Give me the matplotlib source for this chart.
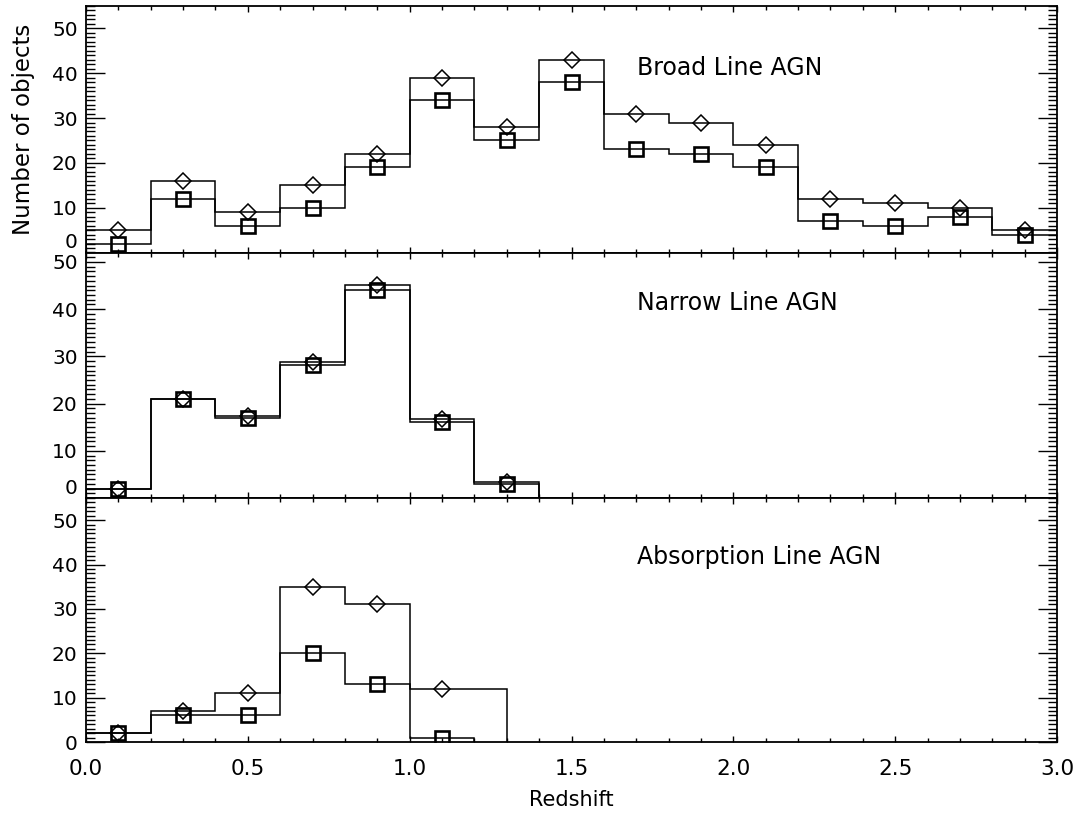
import numpy as np
import matplotlib
matplotlib.use('Agg')
import matplotlib.pyplot as plt
from matplotlib.ticker import MultipleLocator

# redshift histograms, bin width 0.2
broad_centers = [0.1, 0.3, 0.5, 0.7, 0.9, 1.1, 1.3, 1.5, 1.7, 1.9, 2.1, 2.3, 2.5, 2.7, 2.9]
broad_edges = [0.0, 0.2, 0.4, 0.6, 0.8, 1.0, 1.2, 1.4, 1.6, 1.8, 2.0, 2.2, 2.4, 2.6, 2.8, 3.0]
broad_all = [5, 16, 9, 15, 22, 39, 28, 43, 31, 29, 24, 12, 11, 10, 5]
broad_sel = [2, 12, 6, 10, 19, 34, 25, 38, 23, 22, 19, 7, 6, 8, 4]

narrow_centers = [0.1, 0.3, 0.5, 0.7, 0.9, 1.1, 1.3]
narrow_edges = [0.0, 0.2, 0.4, 0.6, 0.8, 1.0, 1.2, 1.4]
narrow_all = [2, 21, 17.3, 28.9, 45.1, 16.7, 3.3]
narrow_sel = [2, 21, 17.0, 28.1, 44.0, 16.0, 2.9]

absorp_centers = [0.1, 0.3, 0.5, 0.7, 0.9, 1.1]
absorp_all = [2, 7, 11, 35, 31, 12]
absorp_all_edges = [0.0, 0.2, 0.4, 0.6, 0.8, 1.0, 1.3]
absorp_sel = [2, 6, 6, 20, 13, 1]
absorp_sel_edges = [0.0, 0.2, 0.4, 0.6, 0.8, 1.0, 1.2]

labels = ['Broad Line AGN', 'Narrow Line AGN', 'Absorption Line AGN']
ytops = [55, 52, 55]

plt.rcParams['font.family'] = ['DejaVu Sans']

fig = plt.figure(figsize=(10.83, 8.17), dpi=100)
W, H = 1083.0, 817.0
left, right = 86 / W, 1057 / W
bounds = [(6, 252.5), (252.5, 498), (498, 742)]

panels = [
    (broad_centers, broad_all, broad_edges, broad_sel, broad_edges),
    (narrow_centers, narrow_all, narrow_edges, narrow_sel, narrow_edges),
    (absorp_centers, absorp_all, absorp_all_edges, absorp_sel, absorp_sel_edges),
]

for i, (cen, v_all, e_all, v_sel, e_sel) in enumerate(panels):
    top, bot = bounds[i]
    ax = fig.add_axes([left, 1 - bot / H, right - left, (bot - top) / H])

    ax.stairs(v_all, e_all, baseline=0, color='k', lw=1.1)
    ax.stairs(v_sel, e_sel, baseline=0, color='k', lw=1.1)
    ax.plot(cen, v_all, ls='none', marker='D', ms=7.8, mfc='none', mec='k', mew=1.1)
    ax.plot(cen, v_sel, ls='none', marker='s', ms=9.6, mfc='none', mec='k', mew=1.9)

    ax.set_xlim(0, 3)
    ax.set_ylim(0, ytops[i])
    ax.xaxis.set_major_locator(MultipleLocator(0.5))
    ax.xaxis.set_minor_locator(MultipleLocator(0.1))
    ax.set_yticks(np.arange(0, 51, 10), [str(t) for t in range(0, 51, 10)])
    ax.yaxis.set_minor_locator(MultipleLocator(1))

    ax.tick_params(axis='both', which='both', direction='in', top=True, right=True,
                   color='k', width=1.0, labelsize=14.5)
    ax.tick_params(axis='x', which='major', length=4.5, pad=12, labelsize=15.5)
    ax.tick_params(axis='x', which='minor', length=3)
    ax.tick_params(axis='y', which='major', length=13.5, pad=6)
    ax.tick_params(axis='y', which='minor', length=6.5)
    for s in ax.spines.values():
        s.set_linewidth(1.3)

    if i < 2:
        ax.tick_params(axis='x', labelbottom=False)
        # lift the zero label so it clears the panel below
        ax.yaxis.get_major_ticks()[0].label1.set_verticalalignment('bottom')
    else:
        ax.set_xticks(np.arange(0, 3.01, 0.5), ['%.1f' % t for t in np.arange(0, 3.01, 0.5)])
        ax.set_xlabel('Redshift', fontsize=15, labelpad=8)

    if i == 0:
        ax.set_ylabel('Number of objects', fontsize=16.5, labelpad=12)

    ax.text(0.567, [0.748, 0.794, 0.758][i], labels[i], transform=ax.transAxes,
            fontsize=17, va='center', ha='left')

fig.savefig('out.png', dpi=100)
